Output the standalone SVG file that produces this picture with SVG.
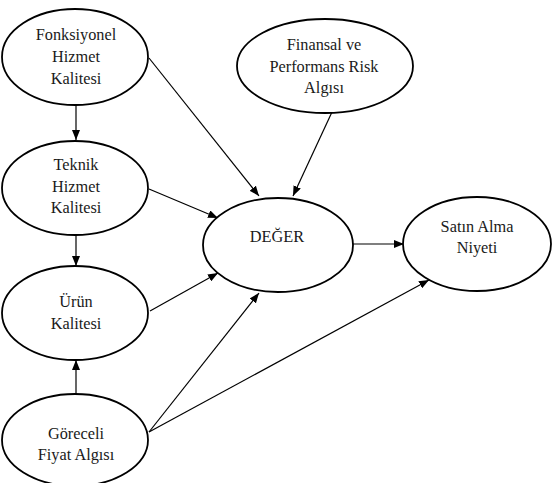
<svg xmlns="http://www.w3.org/2000/svg" width="557" height="483" viewBox="0 0 557 483">
<style>
.node ellipse{fill:#fff;stroke:#000;stroke-width:1.8}
.node text{font-family:"Liberation Serif","Times New Roman",serif;font-size:16.3px;fill:#1a1a1a;text-anchor:middle}
.edges line{stroke:#000;stroke-width:1.2;marker-end:url(#ah)}
</style>
<defs>
<marker id="ah" viewBox="0 0 10 8" refX="10" refY="4" markerWidth="10" markerHeight="8" markerUnits="userSpaceOnUse" orient="auto">
<path d="M0,0 L10,4 L0,8 Z" fill="#000"/>
</marker>
</defs>
<rect width="557" height="483" fill="#fff"/>
<g class="edges">
<line x1="76" y1="104" x2="76" y2="140"/>
<line x1="76" y1="235" x2="76" y2="266"/>
<line x1="76" y1="394" x2="76" y2="360"/>
<line x1="149" y1="58" x2="259" y2="196"/>
<line x1="332" y1="112" x2="293" y2="196"/>
<line x1="149" y1="189" x2="218" y2="218"/>
<line x1="150" y1="311" x2="218" y2="273"/>
<line x1="149" y1="432" x2="259" y2="293"/>
<line x1="149" y1="432" x2="429" y2="280"/>
<line x1="352" y1="244" x2="404" y2="244"/>
</g>
<g id="fonksiyonel" class="node">
<ellipse cx="75" cy="57" rx="73" ry="48"/>
<text x="76" y="40">Fonksiyonel</text>
<text x="76" y="62">Hizmet</text>
<text x="76" y="84">Kalitesi</text>
</g>
<g id="finansal" class="node">
<ellipse cx="325" cy="66" rx="88" ry="47"/>
<text x="324" y="50">Finansal ve</text>
<text x="324" y="72">Performans Risk</text>
<text x="324" y="93">Algısı</text>
</g>
<g id="teknik" class="node">
<ellipse cx="75" cy="188" rx="73" ry="47"/>
<text x="76" y="170">Teknik</text>
<text x="76" y="192">Hizmet</text>
<text x="76" y="213">Kalitesi</text>
</g>
<g id="deger" class="node">
<ellipse cx="278" cy="245" rx="75" ry="47"/>
<text x="277" y="242">DEĞER</text>
</g>
<g id="satin" class="node">
<ellipse cx="477" cy="244" rx="74" ry="47"/>
<text x="477" y="232">Satın Alma</text>
<text x="477" y="253">Niyeti</text>
</g>
<g id="urun" class="node">
<ellipse cx="75" cy="313" rx="73" ry="47"/>
<text x="76" y="307">Ürün</text>
<text x="76" y="329">Kalitesi</text>
</g>
<g id="goreceli" class="node">
<ellipse cx="75" cy="440" rx="73" ry="46"/>
<text x="76" y="439">Göreceli</text>
<text x="76" y="460">Fiyat Algısı</text>
</g>
</svg>
